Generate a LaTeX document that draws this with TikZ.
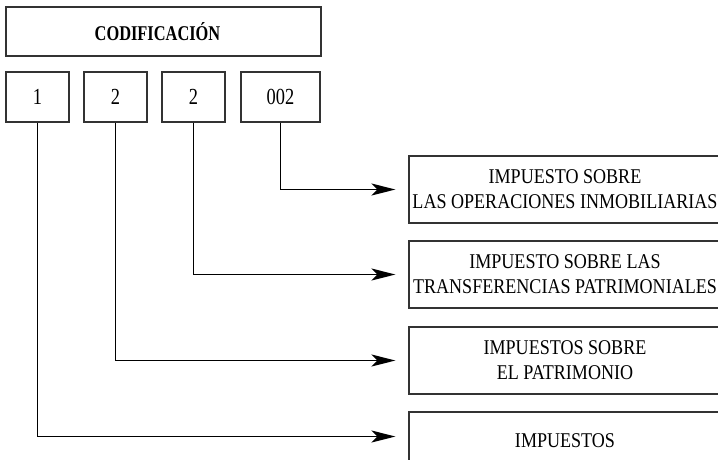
\documentclass[tikz,border=0pt]{standalone}
\usepackage{fontspec}
\setmainfont{Liberation Serif}
\newfontfamily\regf{Liberation Serif}[FakeStretch=0.86]
\newfontfamily\boldf{Liberation Serif}[FakeStretch=0.78]
\newfontfamily\digf{Liberation Serif}[FakeStretch=0.8]
\usetikzlibrary{arrows.meta}
\tikzset{
  boxline/.style={draw=black!80, line width=1.1pt},
  titlebox/.style={boxline, rectangle, minimum width=315pt, minimum height=49pt, inner sep=0pt, font=\boldf\bfseries\fontsize{21}{25}\selectfont},
  digbox/.style={boxline, rectangle, minimum width=63pt, minimum height=50pt, inner sep=0pt, font=\digf\fontsize{23}{27}\selectfont},
  catbox/.style={boxline, rectangle, minimum width=312pt, minimum height=67pt, inner sep=0pt, align=center, font=\regf\fontsize{21}{25}\selectfont},
  conn/.style={line width=1.6pt, black, -{Stealth[length=24pt,width=12pt,inset=6pt]}, shorten >=13pt},
}
\begin{document}
\begin{tikzpicture}[x=1pt,y=-1pt]
\useasboundingbox (0,0) rectangle (718,459);
\clip (0,0) rectangle (718,459);
\node[titlebox] (cod) at (163.5,31.5) {\hspace*{-12pt}CODIFICACIÓN};
\node[digbox] (b1) at (37.5,97) {1};
\node[digbox] (b2) at (115.5,97) {2};
\node[digbox] (b3) at (193.5,97) {2};
\node[digbox, minimum width=79pt] (b4) at (280.5,97) {002};
\node[catbox] (rA) at (565,189.5) {IMPUESTO SOBRE\\LAS OPERACIONES INMOBILIARIAS};
\node[catbox] (rB) at (565,274.5) {IMPUESTO SOBRE LAS\\TRANSFERENCIAS PATRIMONIALES};
\node[catbox] (rC) at (565,360.5) {IMPUESTOS SOBRE\\EL PATRIMONIO};
\node[catbox] (rD) at (565,445.5) {\raisebox{9pt}{IMPUESTOS}};
\coordinate (rDin) at ([yshift=9pt]rD.west);
\draw[conn] (b4.south) |- (rA.west);
\draw[conn] (b3.south) |- (rB.west);
\draw[conn] (b2.south) |- (rC.west);
\draw[conn] (b1.south) |- (rDin);
\end{tikzpicture}
\end{document}
